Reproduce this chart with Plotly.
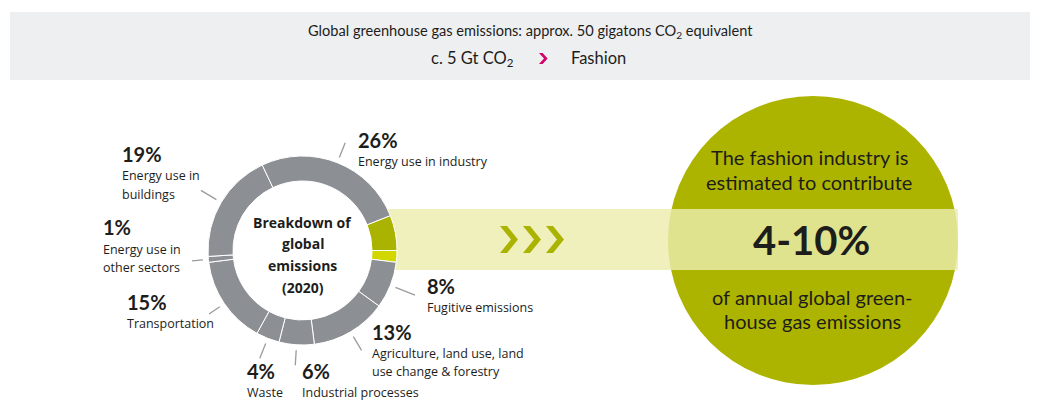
import math
import plotly.graph_objects as go

W, H = 1038, 400

# ---------------------------------------------------------------- data
# Donut slices, listed clockwise starting at 3 o'clock
slice_names = [
    "Fashion (upper estimate)",
    "Fugitive emissions",
    "Agriculture, land use, land use change & forestry",
    "Industrial processes",
    "Waste",
    "Transportation",
    "Energy use in other sectors",
    "Energy use in buildings",
    "Energy use in industry",
    "Fashion",
]
slice_shares = [2, 8, 13, 6, 4, 15, 1, 19, 26, 6]

# Caption lines for the labelled sectors (keyed by slice index)
caption_lines = {
    1: ["Fugitive emissions"],
    2: ["Agriculture, land use, land", "use change & forestry"],
    3: ["Industrial processes"],
    4: ["Waste"],
    5: ["Transportation"],
    6: ["Energy use in", "other sectors"],
    7: ["Energy use in", "buildings"],
    8: ["Energy use in industry"],
}

header_line1 = "Global greenhouse gas emissions: approx. 50 gigatons CO<sub>2</sub> equivalent"
header_left = "c. 5 Gt CO<sub>2</sub>"
header_right = "Fashion"
center_lines = ["Breakdown of", "global", "emissions", "(2020)"]
bubble_top = ["The fashion industry is", "estimated to contribute"]
bubble_value = "4-10%"
bubble_bottom = ["of annual global green-", "house gas emissions"]

# ---------------------------------------------------------------- style
GRAY = "#8c9095"
DARK_GREEN = "#a9b300"
LIGHT_GREEN = "#d3d700"
OLIVE = "#adb400"
TEXT = "#1d1d1b"
LEADER = "#9b9b9b"
PINK = "#d4006a"
FONT = "Lato, 'Open Sans', sans-serif"
BODY_FONT = "'Open Sans', Lato, sans-serif"

# donut geometry in pixels
CX, CY, R_OUT, R_IN = 302.5, 250.5, 94.5, 69.5


def X(px):
    return px / W


def Y(py):
    return 1 - py / H


def poly_path(points):
    return "M " + " L ".join(f"{X(a):.5f},{Y(b):.5f}" for a, b in points) + " Z"


def chevron(x0, cy, w, t, h):
    return [(x0, cy - h), (x0 + t, cy - h), (x0 + t + w, cy),
            (x0 + t, cy + h), (x0, cy + h), (x0 + w, cy)]


slice_colors = [LIGHT_GREEN] + [GRAY] * 8 + [DARK_GREEN]

fig = go.Figure()
fig.add_trace(go.Pie(
    values=slice_shares,
    labels=slice_names,
    sort=False,
    direction="clockwise",
    rotation=90,
    hole=R_IN / R_OUT,
    marker=dict(colors=slice_colors, line=dict(color="white", width=1)),
    textinfo="none",
    hoverinfo="label+percent",
    showlegend=False,
    domain=dict(x=[X(CX - R_OUT), X(CX + R_OUT)],
                y=[Y(CY + R_OUT), Y(CY - R_OUT)]),
))

shapes = []
annotations = []

# header panel
shapes.append(dict(type="rect", xref="paper", yref="paper", layer="below",
                   x0=X(10), x1=X(1030), y0=Y(80), y1=Y(12),
                   fillcolor="#eeeff1", line=dict(width=0)))
annotations += [
    dict(x=X(530), y=Y(31), text=header_line1, font=dict(size=14.6, color=TEXT, family=FONT)),
    dict(x=X(516), y=Y(58), text=header_left, xanchor="right",
         font=dict(size=16.5, color=TEXT, family=FONT)),
    dict(x=X(569), y=Y(58), text=header_right, xanchor="left",
         font=dict(size=16.5, color=TEXT, family=FONT)),
]
shapes.append(dict(type="path", xref="paper", yref="paper", layer="above",
                   path=poly_path(chevron(539, 58.5, 5, 3.6, 5.5)),
                   fillcolor=PINK, line=dict(width=0)))

# big bubble and the highlight band running into it
shapes.append(dict(type="circle", xref="paper", yref="paper", layer="below",
                   x0=X(668), x1=X(958), y0=Y(385), y1=Y(96),
                   fillcolor=OLIVE, line=dict(width=0)))
shapes.append(dict(type="rect", xref="paper", yref="paper", layer="below",
                   x0=X(385), x1=X(958), y0=Y(270), y1=Y(209),
                   fillcolor="rgba(235,237,172,0.82)", line=dict(width=0)))

# three chevrons pointing at the bubble
for cx0 in (500, 523, 546):
    shapes.append(dict(type="path", xref="paper", yref="paper", layer="below",
                       path=poly_path(chevron(cx0, 239.5, 11, 7, 13.5)),
                       fillcolor=DARK_GREEN, line=dict(width=0)))

# leader lines and labels around the donut
total = sum(slice_shares)
mid_angles = []
start = 90.0
for v in slice_shares:
    span = 360.0 * v / total
    mid_angles.append(start + span / 2)
    start += span

# (left x, y of percentage, y of first caption line, leader outer radius)
label_layout = {
    1: (427, 286, 307, 121),
    2: (372, 332, 353, 116),
    3: (302, 371, 392, 115),
    4: (247, 371, 392, 116),
    5: (127, 302, 323, 113),
    6: (103, 227, 249, 111),
    7: (122, 154, 176, 118),
    8: (358, 140, 161, 116),
}

for idx, (lx, py_pct, py_cap, r_end) in label_layout.items():
    a = math.radians(mid_angles[idx])
    x0 = CX + 100 * math.sin(a)
    y0 = CY - 100 * math.cos(a)
    x1 = CX + r_end * math.sin(a)
    y1 = CY - r_end * math.cos(a)
    shapes.append(dict(type="line", xref="paper", yref="paper",
                       x0=X(x0), y0=Y(y0), x1=X(x1), y1=Y(y1),
                       line=dict(color=LEADER, width=1.3)))
    annotations.append(dict(x=X(lx - 2), y=Y(py_pct), xanchor="left",
                            text=f"<b>{slice_shares[idx]}%</b>",
                            font=dict(size=20, color=TEXT, family=FONT)))
    for k, line in enumerate(caption_lines[idx]):
        annotations.append(dict(x=X(lx - 2), y=Y(py_cap + 18 * k), xanchor="left",
                                text=line, font=dict(size=12.5, color=TEXT, family=BODY_FONT)))

# centre of the donut
for k, line in enumerate(center_lines):
    annotations.append(dict(x=X(CX), y=Y(222 + 21.7 * k), text=f"<b>{line}</b>",
                            font=dict(size=14, color=TEXT, family=BODY_FONT)))

# bubble text
for k, line in enumerate(bubble_top):
    annotations.append(dict(x=X(809), y=Y(157 + 25 * k), text=line,
                            font=dict(size=20, color=TEXT, family=FONT)))
annotations.append(dict(x=X(811), y=Y(240), text=f"<b>{bubble_value}</b>",
                        font=dict(size=40, color=TEXT, family=FONT)))
for k, line in enumerate(bubble_bottom):
    annotations.append(dict(x=X(812), y=Y(297 + 23.5 * k), text=line,
                            font=dict(size=20, color=TEXT, family=FONT)))

for ann in annotations:
    ann.setdefault("xref", "paper")
    ann.setdefault("yref", "paper")
    ann.setdefault("showarrow", False)
    ann.setdefault("xanchor", "center")
    ann.setdefault("yanchor", "middle")

fig.update_layout(
    width=W, height=H,
    margin=dict(l=0, r=0, t=0, b=0),
    paper_bgcolor="white", plot_bgcolor="white",
    shapes=shapes, annotations=annotations,
    showlegend=False,
)

fig.write_html("out.html", config=dict(displayModeBar=False))
